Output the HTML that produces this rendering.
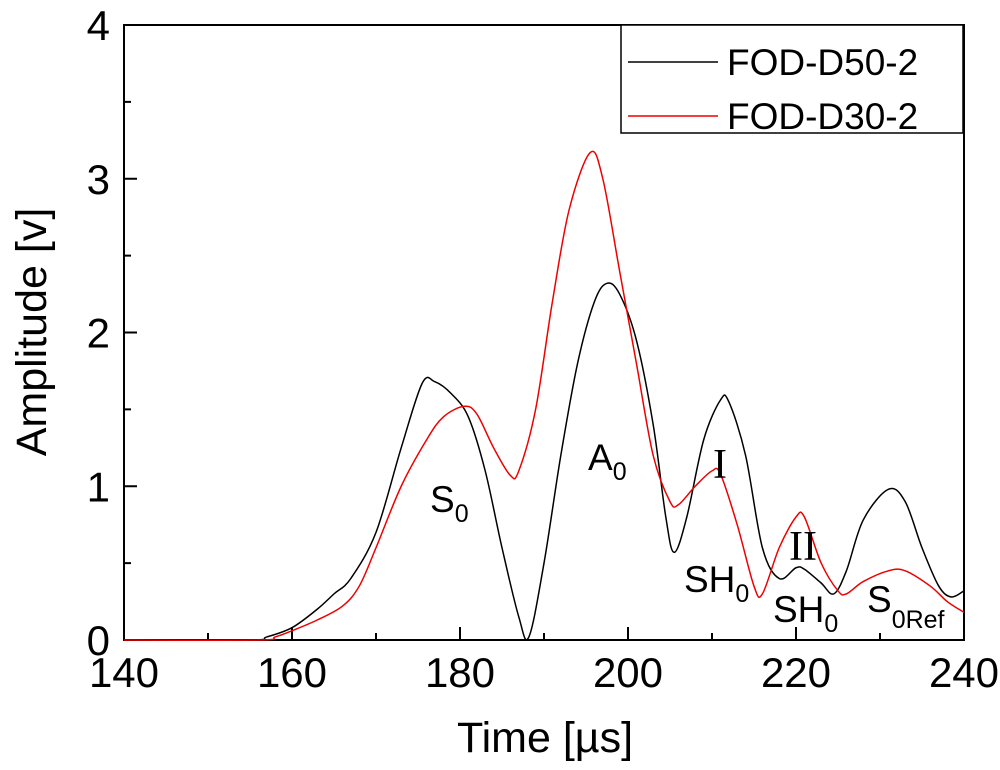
<!DOCTYPE html>
<html><head><meta charset="utf-8"><style>
body{margin:0;background:#fff}
svg text{font-family:"Liberation Sans",sans-serif;fill:#000}
</style></head><body>
<svg width="1000" height="765" viewBox="0 0 1000 765">
<g id="axes"></g>
<g id="series"></g>
<g>
<rect x="621" y="25" width="342" height="108" fill="#fff" stroke="#000" stroke-width="1.5"/>
<line x1="628" y1="62" x2="718" y2="62" stroke="#000" stroke-width="1.5"/>
<text x="727" y="75" font-size="37">FOD-D50-2</text>
<line x1="628" y1="116" x2="718" y2="116" stroke="#e00" stroke-width="1.5"/>
<text x="727" y="129" font-size="37">FOD-D30-2</text>
</g>
<g font-size="37">
<text x="430" y="512">S<tspan font-size="25" dy="10">0</tspan></text>
<text x="588" y="470">A<tspan font-size="25" dy="10">0</tspan></text>
<text x="713" y="478" font-size="42" style="font-family:'Liberation Serif',serif">I</text>
<text x="684" y="592">SH<tspan font-size="25" dy="10">0</tspan></text>
<text x="789" y="560" font-size="42" style="font-family:'Liberation Serif',serif">II</text>
<text x="773" y="622">SH<tspan font-size="25" dy="10">0</tspan></text>
<text x="867" y="612">S<tspan font-size="25" dy="16">0Ref</tspan></text>
</g>
<text x="545" y="752" font-size="43" text-anchor="middle">Time [µs]</text>
<text transform="translate(46,332) rotate(-90)" font-size="43" text-anchor="middle">Amplitude [v]</text>
</svg>
<script>
const xTicks=[140,160,180,200,220,240];
const yTicks=[0,1,2,3,4];
const blackT=[140,155,157,160,163,165,167,170,173,175.5,177,179,181,183,185,187,188.2,190,192,194,196,197.5,199,201,203,204.5,205.5,207,209,211,212,214,216,218,220,221,223,224.5,226,228,231,233,235,237,238.5,240];
const blackA=[0,0,0.02,0.08,0.2,0.3,0.4,0.7,1.25,1.67,1.68,1.6,1.45,1.1,0.6,0.15,0.02,0.5,1.2,1.8,2.2,2.32,2.25,1.95,1.4,0.8,0.57,0.8,1.3,1.56,1.55,1.2,0.6,0.4,0.47,0.46,0.37,0.3,0.45,0.78,0.98,0.9,0.6,0.35,0.28,0.32];
const redT=[140,156,158,160,163,166,168,170,173,176,178,180.5,182,184,186,187,189,191,193,195.5,197,199,201,203,205,206,208,210,211,213,215,216,218,220,221,223,225,226,228,231,233,236,238,240];
const redA=[0,0,0.02,0.06,0.13,0.22,0.35,0.6,1.0,1.3,1.45,1.52,1.47,1.25,1.07,1.1,1.5,2.2,2.8,3.17,3.0,2.4,1.8,1.2,0.9,0.88,1.0,1.1,1.08,0.75,0.35,0.3,0.6,0.8,0.8,0.5,0.32,0.3,0.38,0.45,0.45,0.35,0.25,0.18];
const X0=124,X1=964,Y0=640,Y1=25;
const xs=t=>X0+(t-140)/(240-140)*(X1-X0);
const ys=a=>Y0-a/4*(Y0-Y1);
const NS='http://www.w3.org/2000/svg';
const ax=document.getElementById('axes');
function mk(tag,attrs,parent){const e=document.createElementNS(NS,tag);for(const k in attrs)e.setAttribute(k,attrs[k]);parent.appendChild(e);return e;}
const frame=mk('rect',{x:X0,y:Y1,width:X1-X0,height:Y0-Y1,fill:'none',stroke:'#000','stroke-width':2},ax);


xTicks.forEach((v,i)=>{
 const l=mk('line',{x1:xs(v),x2:xs(v),y1:Y0,y2:Y0-13,stroke:'#000','stroke-width':2},ax);
 
 
 if(i<xTicks.length-1){const m=mk('line',{x1:xs(v+10),x2:xs(v+10),y1:Y0,y2:Y0-7,stroke:'#000','stroke-width':2},ax);
 
 }
 const t=mk('text',{x:xs(v),y:Y0+47,'font-size':42,'text-anchor':'middle'},ax);t.textContent=v;
 
 
});
yTicks.forEach((v,i)=>{
 const l=mk('line',{x1:X0,x2:X0+13,y1:ys(v),y2:ys(v),stroke:'#000','stroke-width':2},ax);
 
 
 if(i<yTicks.length-1){const m=mk('line',{x1:X0,x2:X0+7,y1:ys(v+0.5),y2:ys(v+0.5),stroke:'#000','stroke-width':2},ax);
 
 }
 const t=mk('text',{x:X0-14,y:ys(v)+15,'font-size':42,'text-anchor':'end'},ax);t.textContent=v;
 
 
});
function path(T,A){
 const p=T.map((t,i)=>[xs(t),ys(A[i])]);
 let d='M'+p[0][0]+','+p[0][1];
 for(let i=0;i<p.length-1;i++){
  const p0=p[Math.max(0,i-1)],p1=p[i],p2=p[i+1],p3=p[Math.min(p.length-1,i+2)];
  const c1=[p1[0]+(p2[0]-p0[0])/6,p1[1]+(p2[1]-p0[1])/6];
  const c2=[p2[0]-(p3[0]-p1[0])/6,p2[1]-(p3[1]-p1[1])/6];
  d+=` C${c1[0]},${c1[1]} ${c2[0]},${c2[1]} ${p2[0]},${p2[1]}`;
 }
 return d;
}
const sg=document.getElementById('series');
const pb=mk('path',{d:path(blackT,blackA),fill:'none',stroke:'#000','stroke-width':1.5},sg);


const pr=mk('path',{d:path(redT,redA),fill:'none',stroke:'#e00','stroke-width':1.5},sg);


</script>
</body></html>
